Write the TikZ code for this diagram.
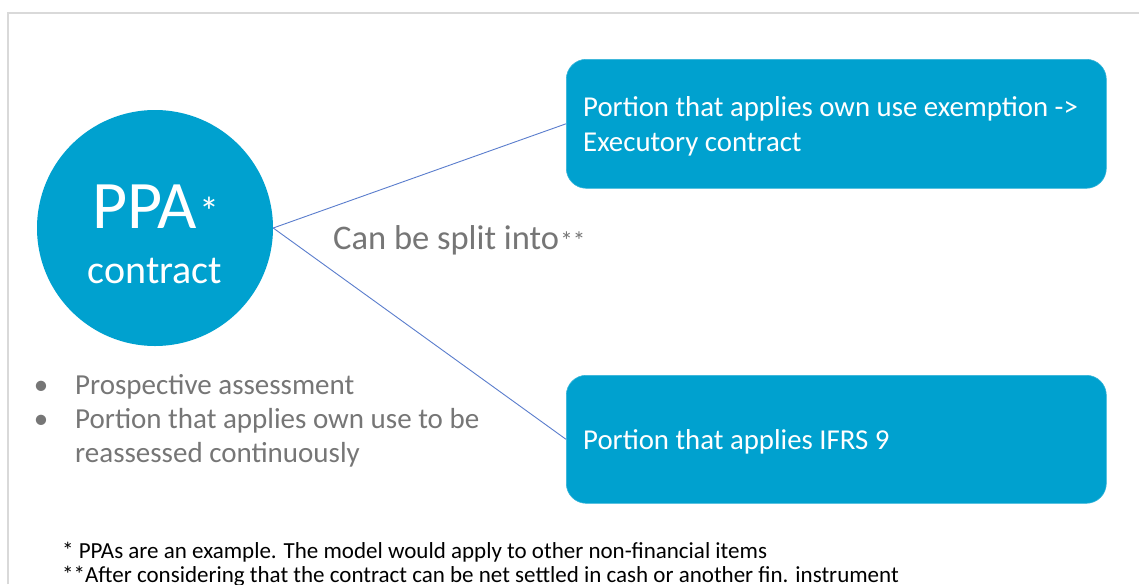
\documentclass[tikz,border=0pt]{standalone}
\usepackage{fontspec}
\setmainfont{Carlito}
\definecolor{ppablue}{RGB}{0,161,207}
\definecolor{txtgray}{RGB}{118,118,118}
\definecolor{linkblue}{RGB}{90,125,205}
\definecolor{framegray}{RGB}{217,217,217}
\begin{document}
\begin{tikzpicture}[x=1pt,y=-1pt,
  bluebox/.style={rounded corners=20pt, fill=ppablue, draw=ppablue!80!white, line width=0.6pt,
    minimum width=540pt, inner sep=0pt, anchor=north west},
  boxtext/.style={anchor=base west, text=white, inner sep=0pt, font=\fontsize{28.8}{35}\selectfont},
  graytext/.style={anchor=base west, text=txtgray, inner sep=0pt, font=\fontsize{29}{34}\selectfont},
  notetext/.style={anchor=base west, text=black, inner sep=0pt, font=\fontsize{23}{25}\selectfont},
  connector/.style={draw=linkblue, line width=0.9pt}]
\useasboundingbox (0,0) rectangle (1139,584);
\fill[white] (0,0) rectangle (1139,584);
\coordinate (fa) at (8,584);
\coordinate (fb) at (8,13);
\coordinate (fc) at (1139,13);
\draw[framegray, line width=1.2pt] (fa) -- (fb) -- (fc);

\node[circle, fill=ppablue, minimum size=236pt, inner sep=0pt] (ppa) at (155,228) {};
\node[anchor=base west, text=white, inner sep=0pt, font=\fontsize{68}{72}\selectfont] (ppat) at (92,228) {PPA};
\node[anchor=base west, text=white, inner sep=0pt, font=\fontsize{40}{44}\selectfont] (ppast) at ([xshift=2pt,yshift=3pt]ppat.base east) {*};
\node[anchor=base, text=white, inner sep=0pt, font=\fontsize{40}{44}\selectfont] (ppac) at (155,283) {contract};

\node[bluebox, minimum height=129pt] (top) at (566,59) {};
\node[bluebox, minimum height=128pt] (bot) at (566,375) {};

\node[boxtext] (toptext) at (583,116) {\begin{tabular}[t]{@{}l@{}}Portion that applies own use exemption ->\\Executory contract\end{tabular}};
\node[boxtext] (bottext) at (583,449) {Portion that applies IFRS 9};

\draw[connector] (ppa.east) -- (top.west);
\draw[connector] (ppa.east) -- (bot.west);

\node[anchor=base west, text=txtgray, inner sep=0pt, font=\fontsize{34.5}{38}\selectfont] (split) at (333,249) {Can be split into};
\node[anchor=base west, text=txtgray, inner sep=0pt, font=\fontsize{25}{28}\selectfont] (splitast) at ([xshift=1pt]split.base east) {**};

\node[graytext, anchor=base] (b1) at (41,394) {\textbullet};
\node[graytext, anchor=base] (b2) at (41,428) {\textbullet};
\node[graytext] (l1) at (75,394) {Prospective assessment};
\node[graytext] (l2) at (75,428) {\begin{tabular}[t]{@{}l@{}}Portion that applies own use to be\\reassessed continuously\end{tabular}};

\node[notetext] (n1) at (62,558) {* PPAs are an example. The model would apply to other non-financial items};
\node[notetext] (n2) at (62,582) {**After considering that the contract can be net settled in cash or another fin. instrument};
\end{tikzpicture}
\end{document}
